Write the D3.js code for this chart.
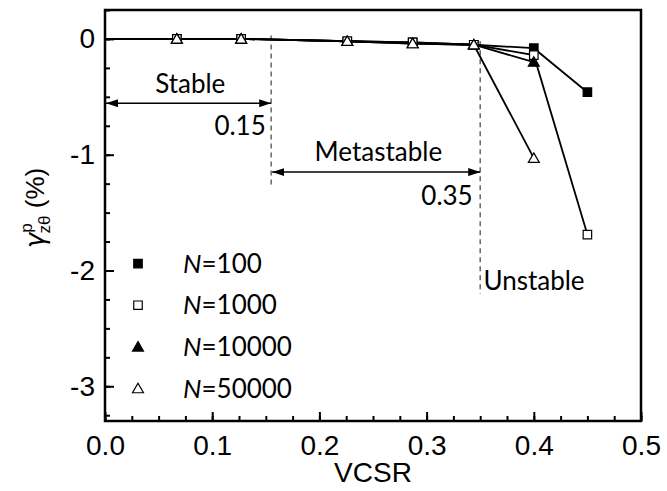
<!DOCTYPE html>
<html>
<head>
<meta charset="utf-8">
<script src="https://cdn.jsdelivr.net/npm/d3@7"></script>
<style>
  html, body { margin: 0; padding: 0; background: #fff; }
  svg { display: block; }
</style>
</head>
<body>
<svg id="chart" width="667" height="491"></svg>
<script>
// VCSR values at which the plastic shear strain was evaluated
const vcsr = [0, 0.067, 0.127, 0.226, 0.287, 0.344, 0.4, 0.45];

// Plastic shear strain (%) for each number of cycles N
const n100   = [0, 0, 0, -0.02, -0.03, -0.05, -0.08, -0.46];
const n1000  = [0, 0, 0, -0.02, -0.03, -0.05, -0.14, -1.69];
const n10000 = [0, 0, 0, -0.02, -0.04, -0.05, -0.20];
const n50000 = [0, 0, 0, -0.02, -0.04, -0.05, -1.03];

const seriesNames = ["100", "1000", "10000", "50000"];
const seriesValues = [n100, n1000, n10000, n50000];
const seriesSymbols = ["squareFilled", "squareOpen", "triangleFilled", "triangleOpen"];

const xTicks = [0, 0.1, 0.2, 0.3, 0.4, 0.5];
const yTicks = [0, -1, -2, -3];

// Stability thresholds on VCSR
const thresholds = [0.155, 0.35];

const svg = d3.select("#chart");
const plot = { left: 105, right: 641, top: 10, bottom: 421 };

const x = d3.scaleLinear().domain([0, 0.5]).range([plot.left, plot.right]);
const y = d3.scaleLinear().domain([-3.3, 0.25]).range([plot.bottom, plot.top]);

const tickFont = "'Liberation Sans', Arial, sans-serif";
const textFont = "Lato, 'Open Sans', sans-serif";

// Ticks (inward, major + minor)
const gx = svg.append("g").attr("transform", `translate(0,${plot.bottom})`);
gx.call(d3.axisBottom(x).tickValues(d3.range(0, 0.5001, 0.025)).tickSize(-5).tickFormat(""));
gx.select(".domain").remove();
gx.selectAll(".tick line").attr("stroke", "#000").attr("stroke-width", 2);
const gx2 = svg.append("g").attr("transform", `translate(0,${plot.bottom})`);
gx2.call(d3.axisBottom(x).tickValues(xTicks).tickSize(-9).tickPadding(14).tickFormat(d => d.toFixed(1)));
gx2.select(".domain").remove();
gx2.selectAll(".tick line").attr("stroke", "#000").attr("stroke-width", 2);
gx2.selectAll(".tick text").attr("font-family", tickFont).attr("font-size", 28).attr("fill", "#000");

const gy = svg.append("g").attr("transform", `translate(${plot.left},0)`);
gy.call(d3.axisLeft(y).tickValues(d3.range(-3.25, 0.26, 0.25)).tickSize(-5).tickFormat(""));
gy.select(".domain").remove();
gy.selectAll(".tick line").attr("stroke", "#000").attr("stroke-width", 2);
const gy2 = svg.append("g").attr("transform", `translate(${plot.left},0)`);
gy2.call(d3.axisLeft(y).tickValues(yTicks).tickSize(-9).tickPadding(10).tickFormat(d => String(d)));
gy2.select(".domain").remove();
gy2.selectAll(".tick line").attr("stroke", "#000").attr("stroke-width", 2);
gy2.selectAll(".tick text").attr("font-family", tickFont).attr("font-size", 28).attr("fill", "#000");

// Frame
svg.append("rect")
  .attr("x", plot.left).attr("y", plot.top)
  .attr("width", plot.right - plot.left).attr("height", plot.bottom - plot.top)
  .attr("fill", "none").attr("stroke", "#000").attr("stroke-width", 2.5);

// Axis titles
svg.append("text")
  .attr("x", (plot.left + plot.right) / 2).attr("y", 482)
  .attr("text-anchor", "middle")
  .attr("font-family", tickFont).attr("font-size", 28)
  .text("VCSR");

const yl = svg.append("text")
  .attr("transform", "translate(44,208) rotate(-90)")
  .attr("text-anchor", "middle")
  .attr("font-family", tickFont).attr("font-size", 26);
yl.append("tspan").attr("font-family", "'DejaVu Sans', sans-serif").attr("font-style", "italic").text("γ");
yl.append("tspan").attr("font-size", 17).attr("dy", -12).text("p");
yl.append("tspan").attr("font-size", 17).attr("dx", -10).attr("dy", 18).text("zθ");
yl.append("tspan").attr("dy", -6).text(" (%)");

// Threshold lines and regime annotations
const ann = svg.append("g");
ann.append("line")
  .attr("x1", x(thresholds[0])).attr("x2", x(thresholds[0]))
  .attr("y1", y(0.03)).attr("y2", y(-1.27))
  .attr("stroke", "#666").attr("stroke-width", 1.5).attr("stroke-dasharray", "5,4");
ann.append("line")
  .attr("x1", x(thresholds[1])).attr("x2", x(thresholds[1]))
  .attr("y1", y(-0.02)).attr("y2", y(-2.2))
  .attr("stroke", "#666").attr("stroke-width", 1.5).attr("stroke-dasharray", "5,4");

const defs = svg.append("defs");
defs.append("marker")
  .attr("id", "arrow").attr("viewBox", "0 0 12 8")
  .attr("refX", 12).attr("refY", 4)
  .attr("markerWidth", 12).attr("markerHeight", 8)
  .attr("markerUnits", "userSpaceOnUse")
  .attr("orient", "auto-start-reverse")
  .append("path").attr("d", "M0,0 L12,4 L0,8 Z").attr("fill", "#000");

function doubleArrow(x0, x1, yv) {
  ann.append("line")
    .attr("x1", x(x0) + 1).attr("x2", x(x1))
    .attr("y1", y(yv)).attr("y2", y(yv))
    .attr("stroke", "#000").attr("stroke-width", 1.5)
    .attr("marker-start", "url(#arrow)").attr("marker-end", "url(#arrow)");
}
doubleArrow(0, thresholds[0], -0.555);
doubleArrow(thresholds[0], thresholds[1], -1.15);

function label(txt, xv, yv, anchor) {
  ann.append("text")
    .attr("x", x(xv)).attr("y", y(yv))
    .attr("text-anchor", anchor)
    .attr("font-family", textFont).attr("font-size", 26)
    .text(txt);
}
label("Stable", 0.0795, -0.47, "middle");
label("0.15", 0.150, -0.83, "end");
label("Metastable", 0.255, -1.05, "middle");
label("0.35", 0.343, -1.43, "end");
label("Unstable", 0.353, -2.17, "start");

// Data lines
const line = d3.line().x((d, i) => x(vcsr[i])).y(d => y(d));
const series = seriesValues.map((vals, k) => ({ name: seriesNames[k], vals, sym: seriesSymbols[k] }));

svg.append("g").selectAll("path")
  .data(series).join("path")
  .attr("d", d => line(d.vals))
  .attr("fill", "none").attr("stroke", "#000").attr("stroke-width", 1.8);

// Markers
const sqPath = d3.symbol(d3.symbolSquare, 72)();
const triPath = d3.symbol(d3.symbolTriangle, 52)();
function drawSymbol(g, sym, cx, cy) {
  const filled = sym.endsWith("Filled");
  const isTri = sym.startsWith("triangle");
  g.append("path")
    .attr("d", isTri ? triPath : sqPath)
    .attr("transform", `translate(${cx},${cy + (isTri ? 1 : 0)})`)
    .attr("fill", filled ? "#000" : "#fff")
    .attr("stroke", "#000").attr("stroke-width", 1.2);
}
const mg = svg.append("g");
series.forEach(s => {
  s.vals.forEach((v, i) => {
    if (vcsr[i] > 0) drawSymbol(mg, s.sym, x(vcsr[i]), y(v));
  });
});

// Legend
const legY = [-1.94, -2.3, -2.66, -3.02];
const lg = svg.append("g");
series.forEach((s, k) => {
  drawSymbol(lg, s.sym, 138, y(legY[k]));
  const t = lg.append("text")
    .attr("x", 183).attr("y", y(legY[k]) + 9)
    .attr("font-family", textFont).attr("font-size", 26);
  t.append("tspan").attr("font-style", "italic").text("N");
  t.append("tspan").text("=" + s.name);
});
</script>
</body>
</html>
